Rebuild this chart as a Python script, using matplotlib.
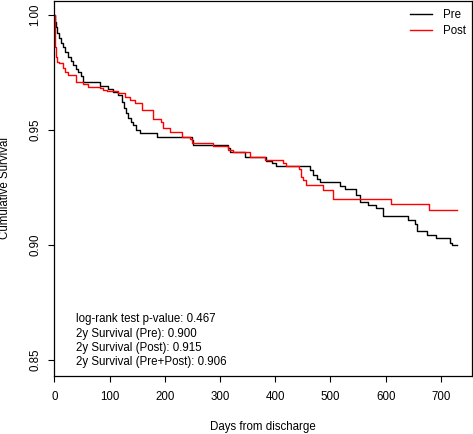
import matplotlib
matplotlib.use("Agg")
import matplotlib.pyplot as plt

plt.rcParams['font.family'] = ['Liberation Sans', 'DejaVu Sans']

# Kaplan-Meier step data (days, survival after event)
pre_days = [0, 1, 3, 5.5, 8.5, 12, 16, 20, 25, 30, 34, 39, 43, 48, 52, 83, 98, 107, 116,
            122, 126, 130, 134, 138, 143, 148, 155, 186, 249, 252, 315, 318, 345, 384,
            394, 402, 463, 468, 475, 481, 517, 527, 547, 554, 568, 582, 595, 641, 653,
            656, 674, 692, 716, 720, 729]
pre_surv = [1.0, 0.997, 0.9948, 0.992, 0.990, 0.9876, 0.986, 0.984, 0.9818, 0.980, 0.978,
            0.9763, 0.975, 0.9734, 0.971, 0.969, 0.9676, 0.9666, 0.9652, 0.9623, 0.9594,
            0.9572, 0.9551, 0.9535, 0.952, 0.950, 0.9486, 0.9468, 0.9455, 0.9435, 0.942,
            0.9403, 0.9384, 0.9367, 0.9356, 0.9344, 0.9327, 0.9305, 0.9286, 0.9273,
            0.9257, 0.9243, 0.9218, 0.9189, 0.9175, 0.916, 0.9127, 0.911, 0.9092,
            0.9059, 0.9045, 0.903, 0.9011, 0.8999, 0.8999]

post_days = [0, 0.5, 1, 3, 5.5, 9, 16, 20, 25, 39, 52, 61, 83, 89, 95, 116, 128, 137, 146,
             158, 179, 193, 197, 210, 231, 246, 249, 287, 315, 323, 354, 381, 414, 419,
             443, 447, 450, 456, 487, 505, 609, 678, 729]
post_surv = [1.0, 0.992, 0.986, 0.9818, 0.9796, 0.9789, 0.9768, 0.9753, 0.9739, 0.971,
             0.970, 0.9685, 0.968, 0.9673, 0.9669, 0.9662, 0.9644, 0.963, 0.9616, 0.9587,
             0.9546, 0.9533, 0.951, 0.9493, 0.9471, 0.9462, 0.9445, 0.9428, 0.9413,
             0.9402, 0.9384, 0.937, 0.9356, 0.9344, 0.933, 0.9297, 0.9283, 0.9261,
             0.924, 0.920, 0.9179, 0.9153, 0.9153]

series_names = ["Pre", "Post"]
x_ticks = [0, 100, 200, 300, 400, 500, 600, 700]
y_ticks = [0.85, 0.90, 0.95, 1.00]
y_tick_labels = ["0.85", "0.90", "0.95", "1.00"]
annotations = ["log-rank test p-value: 0.467",
               "2y Survival (Pre): 0.900",
               "2y Survival (Post): 0.915",
               "2y Survival (Pre+Post): 0.906"]

W, H = 473, 434
fig = plt.figure(figsize=(W / 100, H / 100), dpi=100)
L, R, T, B = 54.3, 471.7, 0.5, 376.3
ax = fig.add_axes([L / W, 1 - B / H, (R - L) / W, (B - T) / H])

ax.step(pre_days, pre_surv, where='post', color='black', lw=1.0, label=series_names[0])
ax.step(post_days, post_surv, where='post', color='red', lw=1.0, label=series_names[1])

ax.set_xlim(0, 755.8)
ax.set_ylim(0.8430, 1.0062)
ax.set_xticks(x_ticks)
ax.set_xticklabels([str(t) for t in x_ticks])
ax.set_yticks(y_ticks)
ax.set_yticklabels(y_tick_labels, rotation=90, va='center')
ax.tick_params(direction='out', length=4.5, width=0.8, labelsize=8.3, pad=5)
ax.tick_params(axis='x', pad=6)
for s in ax.spines.values():
    s.set_linewidth(0.9)

fs = 8.3
ax.set_xlabel("Days from discharge", fontsize=fs)
ax.xaxis.set_label_coords(0.5, (B - 426.7) / (B - T), transform=ax.transAxes)
ax.xaxis.label.set_va('center')
ax.set_ylabel("Cumulative Survival", fontsize=fs)
ax.yaxis.label.set_va('center')
ax.yaxis.set_label_coords((5.2 - L) / (R - L), 0.5)

leg = ax.legend(loc='upper left', bbox_to_anchor=((410 - L) / (R - L), 1 - (9.0 - T) / (B - T)),
                frameon=False, fontsize=fs, handlelength=1.9, handletextpad=1.0,
                labelspacing=0.38, borderpad=0, borderaxespad=0)

ys = [319.3, 334.3, 348.5, 362.0]
for txt, yy in zip(annotations, ys):
    fig.text(76 / W, 1 - yy / H, txt, fontsize=fs, va='center', ha='left')

fig.savefig("out.png", dpi=100)
